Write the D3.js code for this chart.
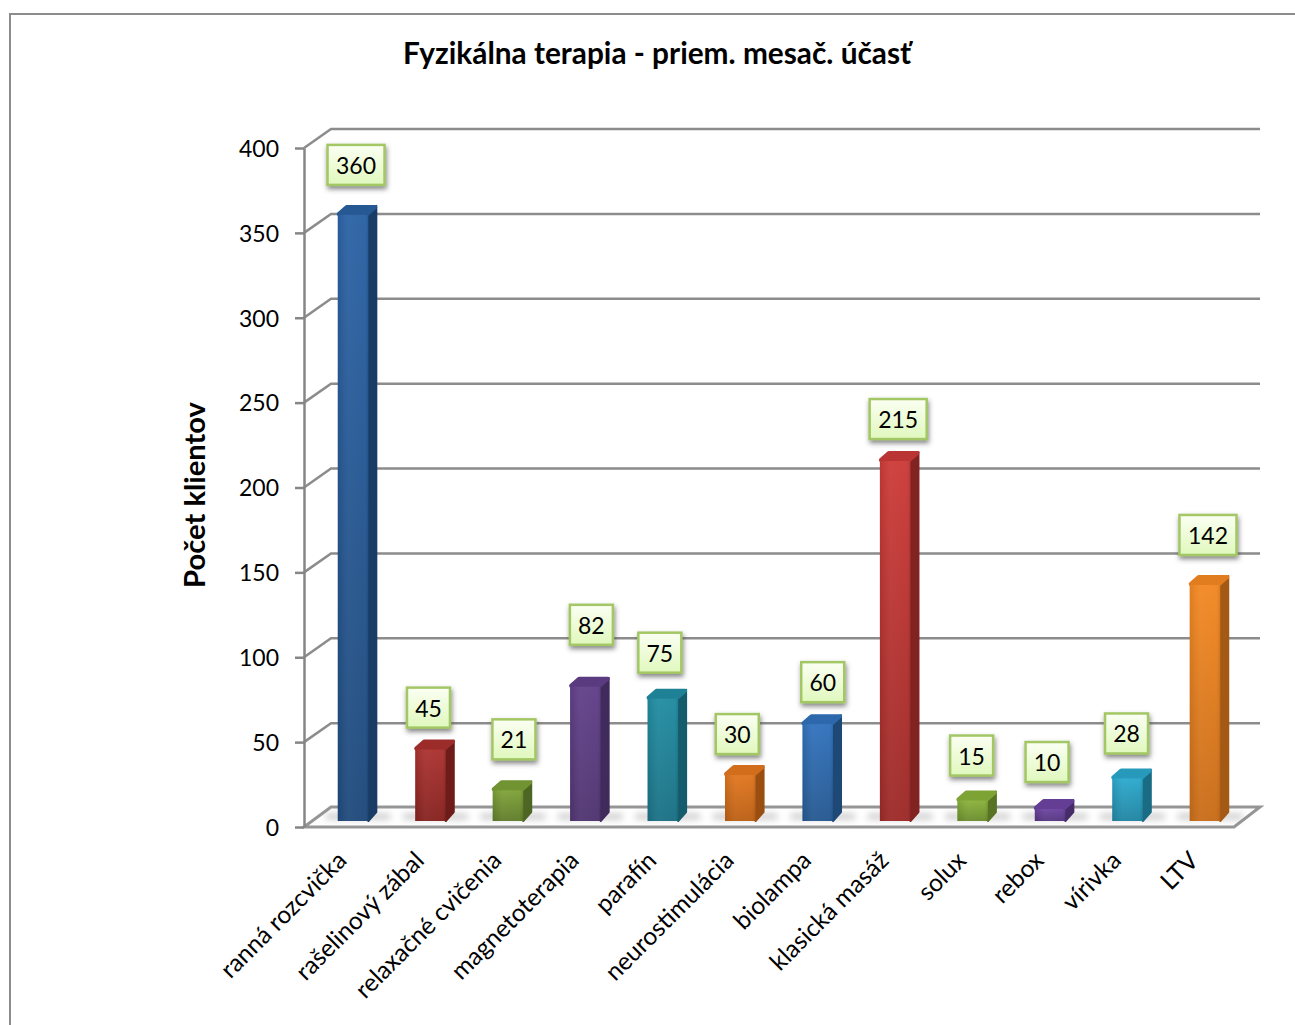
<!DOCTYPE html>
<html>
<head>
<meta charset="utf-8">
<title>Fyzikálna terapia</title>
<script src="https://cdn.jsdelivr.net/npm/d3@7"></script>
<style>
html, body { margin: 0; padding: 0; background: #fff; overflow: hidden; }
svg { display: block; }
text { font-family: Lato, "Open Sans", sans-serif; fill: #000; }
.domain, .tick line { stroke: #868686; stroke-width: 2.5; }
</style>
</head>
<body>
<svg id="chart" width="1295" height="1025"></svg>
<script>
// data
var categories = ['ranná rozcvička', 'rašelinový zábal', 'relaxačné cvičenia', 'magnetoterapia', 'parafín',
	'neurostimulácia', 'biolampa', 'klasická masáž', 'solux', 'rebox', 'vírivka', 'LTV'];
var values = [360, 45, 21, 82, 75, 30, 60, 215, 15, 10, 28, 142];
var yTicks = [0, 50, 100, 150, 200, 250, 300, 350, 400];

// per bar colours: light, dark
var barLight = ['#2b62a4', '#ab3230', '#7fa238', '#614089', '#218ca1', '#e0761f', '#3172bd', '#cc3b38', '#8ab23b', '#6c44a1', '#2ca9cd', '#f28823'];
var barDark = ['#1f4a7c', '#85221f', '#5f7c2a', '#4f3470', '#1a7084', '#bb5f14', '#25588f', '#9c2a28', '#6b8c2c', '#553580', '#2084a2', '#c86c18'];

// the labels were dragged by hand in the original
var nudgeX = [-1, -6, 2, 2, -7, -7, 1, -1, -5, -7, -5, -1];
var nudgeY = [-8, 0, -9, -20, -4, 1, 0, 0, -3, -5, -3, -8];

var svg = d3.select('#chart');
var defs = svg.append('defs');

// frame, only top and left are on the page
svg.append('rect').attr('x', 10).attr('y', 14).attr('width', 1400).attr('height', 1200)
	.attr('fill', 'none').attr('stroke', '#8c8c8c').attr('stroke-width', 2);

var y = d3.scaleLinear().domain([0, 400]).range([827, 148]);
var x = d3.scaleBand().domain(categories).range([314.5, 1243.5]).paddingInner(0.605).paddingOuter(0.3);

var depthX = 27, depthY = 19; // wall depth
var barDx = 8, barDy = 9;     // bar depth
var barBase = y(0) - 6;       // bars stand inside the floor

function barTop(d) { return y(d) - 1; }

// floor
svg.append('path')
	.attr('d', d3.line()([[304, y(0)], [304 + depthX, y(0) - depthY - 1], [1260, y(0) - depthY - 1], [1234, y(0)]]) + 'Z')
	.attr('fill', '#fff').attr('stroke', '#959595').attr('stroke-width', 3);

// grid on the side and back wall
svg.append('g').selectAll('path').data(yTicks.slice(1)).join('path')
	.attr('fill', 'none').attr('stroke', '#8c8c8c').attr('stroke-width', 2.5)
	.attr('d', function (d) {
		return d3.line()([[304, y(d)], [304 + depthX, y(d) - depthY], [1260, y(d) - depthY]]);
	});

var axis = d3.axisLeft(y).tickValues(yTicks).tickSize(9).tickSizeOuter(0).tickPadding(16);
var gAxis = svg.append('g').attr('transform', 'translate(304,0)').call(axis);
gAxis.selectAll('text').attr('font-size', 23).attr('dy', '0.36em').style('font-family', 'Lato, sans-serif');

defs.append('filter').attr('id', 'blur').attr('x', '-30%').attr('y', '-150%').attr('width', '160%').attr('height', '400%')
	.append('feGaussianBlur').attr('stdDeviation', 3.5);
var labelShadow = defs.append('filter').attr('id', 'lblShadow').attr('x', '-20%').attr('y', '-20%').attr('width', '140%').attr('height', '150%');
labelShadow.append('feDropShadow').attr('dx', 1).attr('dy', 3).attr('stdDeviation', 2.5).attr('flood-color', '#444').attr('flood-opacity', 0.65);

var lblGrad = defs.append('linearGradient').attr('id', 'lblGrad').attr('x1', 0).attr('y1', 0).attr('x2', 0).attr('y2', 1);
lblGrad.append('stop').attr('offset', '0%').attr('stop-color', '#fbfff3');
lblGrad.append('stop').attr('offset', '100%').attr('stop-color', '#e0f8bd');

// bar fills
categories.forEach(function (c, i) {
	var g = defs.append('linearGradient').attr('id', 'front' + i).attr('x1', 0).attr('y1', 0).attr('x2', 0).attr('y2', 1);
	g.append('stop').attr('offset', '0%').attr('stop-color', barLight[i]);
	g.append('stop').attr('offset', '100%').attr('stop-color', barDark[i]);
	var s = defs.append('linearGradient').attr('id', 'sheen' + i).attr('x1', 0).attr('y1', 0).attr('x2', 1).attr('y2', 0);
	s.append('stop').attr('offset', '0%').attr('stop-color', '#000').attr('stop-opacity', 0.08);
	s.append('stop').attr('offset', '35%').attr('stop-color', '#fff').attr('stop-opacity', 0.05);
	s.append('stop').attr('offset', '85%').attr('stop-color', '#fff').attr('stop-opacity', 0.03);
	s.append('stop').attr('offset', '100%').attr('stop-color', '#000').attr('stop-opacity', 0.1);
});

var bars = svg.append('g').selectAll('g').data(values).join('g');

// floor shadow
bars.append('rect')
	.attr('x', function (d, i) { return x(categories[i]) - 12; })
	.attr('width', x.bandwidth() + 34)
	.attr('y', barBase - 7).attr('height', 5)
	.attr('fill', '#a0a0a0').attr('opacity', 0.65).attr('filter', 'url(#blur)');

// right side
bars.append('path')
	.attr('d', function (d, i) {
		var l = x(categories[i]) + x.bandwidth(), t = barTop(d), b = barBase;
		return d3.line()([[l, t], [l + barDx, t - barDy], [l + barDx, b - barDy], [l, b]]) + 'Z';
	})
	.attr('fill', function (d, i) { return d3.color(barDark[i]).darker(0.55); })
	.attr('stroke', function (d, i) { return d3.color(barDark[i]).darker(0.55); })
	.attr('stroke-width', 2).attr('stroke-linejoin', 'round');

// top
bars.append('path')
	.attr('d', function (d, i) {
		var l = x(categories[i]) + 1, w = x.bandwidth() - 1, t = barTop(d) - 1;
		return d3.line()([[l, t], [l + barDx, t - barDy + 2], [l + w + barDx - 1, t - barDy + 2], [l + w - 1, t]]) + 'Z';
	})
	.attr('fill', function (d, i) { return d3.interpolateRgb(barLight[i], barDark[i])(0.4); })
	.attr('stroke', function (d, i) { return d3.interpolateRgb(barLight[i], barDark[i])(0.4); })
	.attr('stroke-width', 4).attr('stroke-linejoin', 'round');

// front
bars.append('rect')
	.attr('x', function (d, i) { return x(categories[i]); })
	.attr('y', function (d) { return barTop(d); })
	.attr('width', x.bandwidth())
	.attr('height', function (d) { return barBase - barTop(d); })
	.attr('fill', function (d, i) { return 'url(#front' + i + ')'; });
bars.append('rect')
	.attr('x', function (d, i) { return x(categories[i]); })
	.attr('y', function (d) { return barTop(d); })
	.attr('width', x.bandwidth())
	.attr('height', function (d) { return barBase - barTop(d); })
	.attr('fill', function (d, i) { return 'url(#sheen' + i + ')'; });

// data labels
var labels = svg.append('g').selectAll('g').data(values).join('g')
	.attr('transform', function (d, i) {
		var cx = x(categories[i]) + x.bandwidth() / 2 + barDx / 2 + nudgeX[i];
		var bottom = barTop(d) - 22 + nudgeY[i];
		return 'translate(' + cx + ',' + bottom + ')';
	});
labels.append('rect')
	.attr('x', function (d) { return d >= 100 ? -28.5 : -21.5; })
	.attr('y', -40)
	.attr('width', function (d) { return d >= 100 ? 57 : 43; })
	.attr('height', 40)
	.attr('fill', 'url(#lblGrad)').attr('stroke', '#a4c765').attr('stroke-width', 2.5)
	.attr('filter', 'url(#lblShadow)');
labels.append('text')
	.attr('text-anchor', 'middle').attr('y', -11).attr('font-size', 23)
	.text(function (d) { return d; });

// category labels
svg.append('g').selectAll('text').data(categories).join('text')
	.attr('text-anchor', 'end').attr('font-size', 24.5)
	.attr('transform', function (d) {
		return 'translate(' + (x(d) + x.bandwidth() / 2 - 5) + ',862) rotate(-45)';
	})
	.text(function (d) { return d; });

svg.append('text').attr('x', 657).attr('y', 64).attr('text-anchor', 'middle')
	.attr('font-size', 29.8).attr('font-weight', 700)
	.text('Fyzikálna terapia - priem. mesač. účasť');

svg.append('text').attr('transform', 'translate(205,495) rotate(-90)').attr('text-anchor', 'middle')
	.attr('font-size', 29.2).attr('font-weight', 700)
	.text('Počet klientov');
</script>
</body>
</html>
